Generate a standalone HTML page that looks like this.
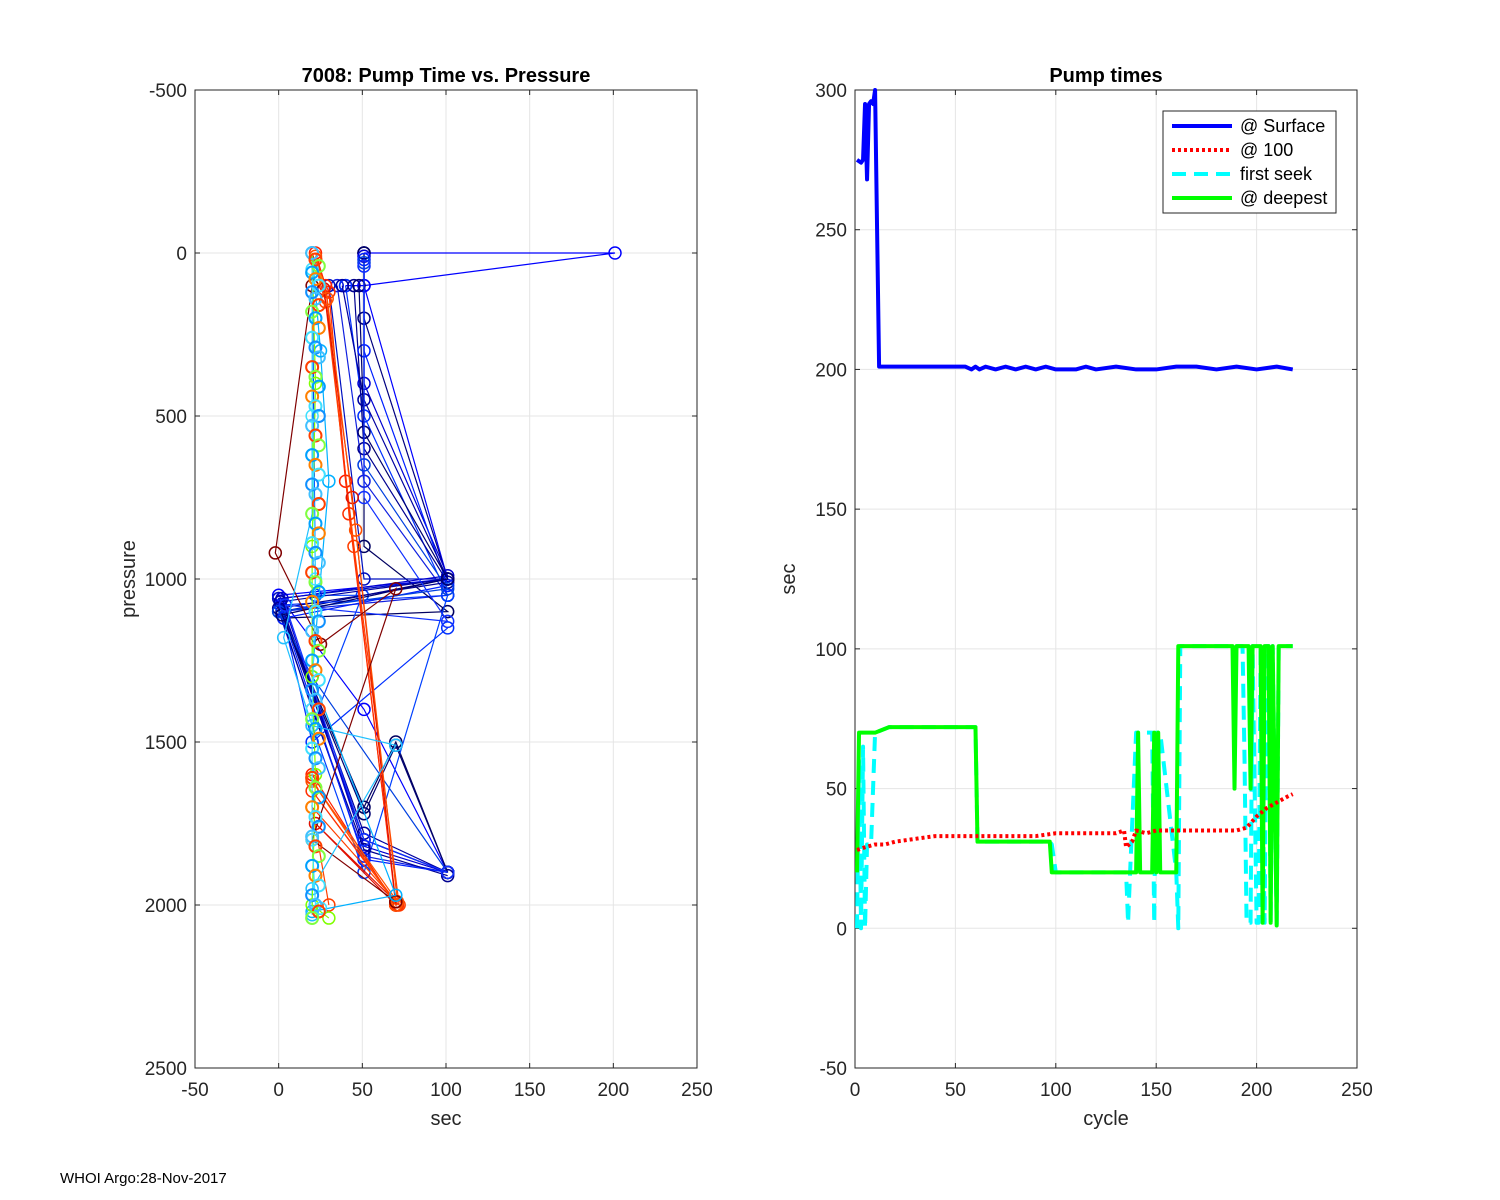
<!DOCTYPE html>
<html><head><meta charset="utf-8"><style>
html,body{margin:0;padding:0;background:#fff;}
svg{display:block;font-family:"Liberation Sans",sans-serif;}
</style></head><body>
<svg id="fig" width="1500" height="1200" viewBox="0 0 1500 1200">
<rect width="1500" height="1200" fill="#fff"/>
<g id="left"></g>
<g id="right"></g>
<text x="60" y="1183" font-size="15" fill="#000">WHOI Argo:28-Nov-2017</text>
</svg>
<script>
// ---------- Data ----------
const leftXTicks = [-50,0,50,100,150,200,250];
const leftYTicks = [-500,0,500,1000,1500,2000,2500];
const rightXTicks = [0,50,100,150,200,250];
const rightYTicks = [-50,0,50,100,150,200,250,300];

// left chart profiles: sec values, pressure values, color
const profSec = [
 [51,201,51,40,51,101,0,51,101],
 [51,51,101,2,51,101],
 [35,51,101,0,51,101],
 [40,51,101,1,20,101],
 [51,51,101,3,51,70,101],
 [30,51,101,0,51,101],
 [20,22,50,20,51,101],
 [51,51,101,2,51,101],
 [45,51,101,0,20,51,101],
 [51,51,101,3,51,101],
 [38,51,101,1,51,101],
 [51,51,101,0,20,101],
 [48,51,101,2,51,70,101],
 [51,51,101,4,51,101],
 [22,28,40,70,20,70],
 [20,28,45,72,20,30],
 [22,30,42,70,20,71],
 [20,27,44,70,22,70],
 [22,29,46,71,20,70],
 [20,-2,25,70,20,70],
 [20,25,30,20,70,20],
 [20,20,3,20,70,20,20],
 [20,22,20,20,22,20,30],
 [20,20,22,20,20,22,25]
];
const profPres = [
 [0,0,100,100,100,1000,1050,1400,1900],
 [0,200,1000,1100,1800,1900],
 [100,700,1050,1100,1850,1900],
 [100,500,1050,1080,1500,1150],
 [0,900,1100,1120,1700,1500,1900],
 [100,1000,1000,1060,1800,1900],
 [0,1050,1050,1450,1900,1050],
 [10,400,990,1060,1820,1900],
 [100,600,1010,1090,1400,1830,1910],
 [20,300,1020,1120,1860,1900],
 [100,450,1000,1070,1780,1900],
 [30,650,1030,1100,1300,1900],
 [100,550,1000,1110,1720,1510,1900],
 [40,750,1130,1080,1800,1900],
 [0,100,700,2000,1600,2000],
 [0,150,900,2000,1700,2000],
 [20,120,800,1990,1650,2000],
 [0,110,750,2000,1750,1990],
 [10,140,850,1990,1620,2000],
 [100,920,1200,1030,1800,1990],
 [0,300,700,1300,1970,2020],
 [0,800,1180,1450,1510,1950,2030],
 [0,400,900,1300,1600,2000,2040],
 [50,500,1000,1400,1800,2000,2010]
];
const profColor = ["#0000ff","#000080","#1020e0","#0030ff","#000060","#0010c0","#0040ff",
 "#0000d0","#000090","#0020ff","#0000a0","#0040e0","#000070","#1030ff",
 "#ff2000","#ff4000","#ff3000","#e01000","#ff5000",
 "#800000","#00b0ff","#20c0ff","#80ff00","#40e0ff"];
// dense column of points near 20 sec
const columnPres = [0,20,40,60,80,100,120,140,160,180,200,230,260,290,320,350,380,410,440,470,500,530,560,590,620,650,680,710,740,770,800,830,860,890,920,950,980,1010,1040,1070,1100,1130,1160,1190,1220,1250,1280,1310,1340,1370,1400,1430,1460,1490,1520,1550,1580,1610,1640,1670,1700,1730,1760,1790,1820,1850,1880,1910,1940,1970,2000,2020,2040];
const columnColor = ["#40c0ff","#ff4000","#80ff40","#00a0ff","#ff8000","#40e0ff","#1090ff"];

// right chart series
const surfCyc = [1,3,4,5,6,7,8,9,10,11,12,40,55,58,60,62,65,70,75,80,85,90,95,100,110,115,120,130,140,150,160,170,180,190,200,210,218];
const surfVal = [275,274,275,295,268,295,296,295,300,250,201,201,201,200,201,200,201,200,201,200,201,200,201,200,200,201,200,201,200,200,201,201,200,201,200,201,200];
const r100Cyc = [1,5,10,15,20,30,40,60,90,100,130,134,135,138,140,145,150,190,195,200,205,210,215,218];
const r100Val = [28,29,30,30,31,32,33,33,33,34,34,35,29,31,35,34,35,35,36,40,43,45,47,48];
const seekCyc = [1,2,3,4,5,6,7,8,10,17,60,61,97,98,100,135,136,137,140,141,148,149,150,151,152,160,161,162,193,194,195,197,198,200,201,202,204,205,206,207,208,210,211,218];
const seekVal = [0,60,0,65,0,30,30,30,70,72,72,31,31,30,20,20,2,20,70,70,70,2,70,70,70,20,0,101,101,60,2,2,101,2,2,101,2,101,101,2,101,1,101,101];
const deepCyc = [1,2,10,17,60,61,97,98,100,140,141,142,148,149,150,151,152,160,161,188,189,190,196,197,198,202,203,204,206,207,208,210,211,218];
const deepVal = [20,70,70,72,72,31,31,20,20,20,70,20,20,70,20,70,20,20,101,101,50,101,101,50,101,101,2,101,101,2,101,1,101,101];

// ---------- Helpers ----------
const NS="http://www.w3.org/2000/svg";
function mk(parent,tag,attrs){const e=document.createElementNS(NS,tag);for(const k in attrs)e.setAttribute(k,attrs[k]);parent.appendChild(e);return e;}

function axes(g,x0,x1,y0,y1,xmin,xmax,ymin,ymax,yrev,xt,yt,title,xlabel,ylabel){
 const sx=v=>x0+(v-xmin)/(xmax-xmin)*(x1-x0);
 const sy=yrev? v=>y0+(v-ymin)/(ymax-ymin)*(y1-y0) : v=>y1-(v-ymin)/(ymax-ymin)*(y1-y0);
 const grid=mk(g,'g',{});
 
 
 xt.forEach(t=>{const x=sx(t);mk(grid,'line',{x1:x,x2:x,y1:y0,y2:y1,stroke:'#e5e5e5','stroke-width':1});
   mk(g,'line',{x1:x,x2:x,y1:y1,y2:y1-5,stroke:'#262626'});mk(g,'line',{x1:x,x2:x,y1:y0,y2:y0+5,stroke:'#262626'});
   const tx=mk(g,'text',{x:x,y:y1+28,'font-size':19,'text-anchor':'middle',fill:'#262626'});tx.textContent=t;
   
   });
 yt.forEach(t=>{const y=sy(t);mk(grid,'line',{x1:x0,x2:x1,y1:y,y2:y,stroke:'#e5e5e5','stroke-width':1});
   mk(g,'line',{x1:x0,x2:x0+5,y1:y,y2:y,stroke:'#262626'});mk(g,'line',{x1:x1,x2:x1-5,y1:y,y2:y,stroke:'#262626'});
   const tx=mk(g,'text',{x:x0-8,y:y+7,'font-size':19,'text-anchor':'end',fill:'#262626'});tx.textContent=t;
   
   });
 const box=mk(g,'rect',{x:x0,y:y0,width:x1-x0,height:y1-y0,fill:'none',stroke:'#262626','stroke-width':1});
 
 
 const ti=mk(g,'text',{x:(x0+x1)/2,y:y0-8,'font-size':20,'font-weight':'bold','text-anchor':'middle'});ti.textContent=title;
 
 
 const xl=mk(g,'text',{x:(x0+x1)/2,y:y1+57,'font-size':20,'text-anchor':'middle',fill:'#262626'});xl.textContent=xlabel;
 
 
 const yx=(x0-60),yy=(y0+y1)/2;
 const yl=mk(g,'text',{x:yx,y:yy,'font-size':20,'text-anchor':'middle',fill:'#262626',transform:`rotate(-90 ${yx} ${yy})`});yl.textContent=ylabel;
 
 
 return {sx,sy};
}

// ---------- Left chart ----------
const L=document.getElementById('left');
const la=axes(L,195,697,90,1068,-50,250,-500,2500,true,leftXTicks,leftYTicks,'7008: Pump Time vs. Pressure','sec','pressure');
const marks=mk(L,'g',{});


profSec.forEach((secs,k)=>{
 const pts=secs.map((s,i)=>la.sx(s)+','+la.sy(profPres[k][i])).join(' ');
 const pl=mk(marks,'polyline',{points:pts,fill:'none',stroke:profColor[k],'stroke-width':1.2});
 
 
 secs.forEach((s,i)=>{
  const c=mk(marks,'circle',{cx:la.sx(s),cy:la.sy(profPres[k][i]),r:6,fill:'none',stroke:profColor[k],'stroke-width':1.5});
  
  
 });
});
columnPres.forEach((p,i)=>{
 const c=mk(marks,'circle',{cx:la.sx(20+(i%3)*2),cy:la.sy(p),r:6,fill:'none',stroke:columnColor[i%columnColor.length],'stroke-width':2});
 
 
});

// ---------- Right chart ----------
const R=document.getElementById('right');
const ra=axes(R,855,1357,90,1068,0,250,-50,300,false,rightXTicks,rightYTicks,'Pump times','cycle','sec');
function series(cyc,val,color,w,dash,name){
 const pts=cyc.map((c,i)=>ra.sx(c)+','+ra.sy(val[i])).join(' ');
 const pl=mk(R,'polyline',{points:pts,fill:'none',stroke:color,'stroke-width':w,'stroke-dasharray':dash,'stroke-linejoin':'round'});
 
 
}
series(seekCyc,seekVal,'#00ffff',4,'14,8','series-first-seek');
series(deepCyc,deepVal,'#00ff00',4,'none','series-deepest');
series(r100Cyc,r100Val,'#ff0000',4,'3,3','series-at-100');
series(surfCyc,surfVal,'#0000ff',4,'none','series-surface');

// legend
const lg=mk(R,'g',{});


mk(lg,'rect',{x:1163,y:111,width:173,height:102,fill:'#fff',stroke:'#262626','stroke-width':1});
const legNames=['@ Surface','@ 100','first seek','@ deepest'];
const legCol=['#0000ff','#ff0000','#00ffff','#00ff00'];
const legDash=['none','3,3','14,8','none'];
legNames.forEach((n,i)=>{
 const y=126+i*24;
 mk(lg,'line',{x1:1172,x2:1232,y1:y,y2:y,stroke:legCol[i],'stroke-width':4,'stroke-dasharray':legDash[i]});
 const t=mk(lg,'text',{x:1240,y:y+6,'font-size':18,fill:'#000'});t.textContent=n;
 
 
});
</script>
</body></html>
